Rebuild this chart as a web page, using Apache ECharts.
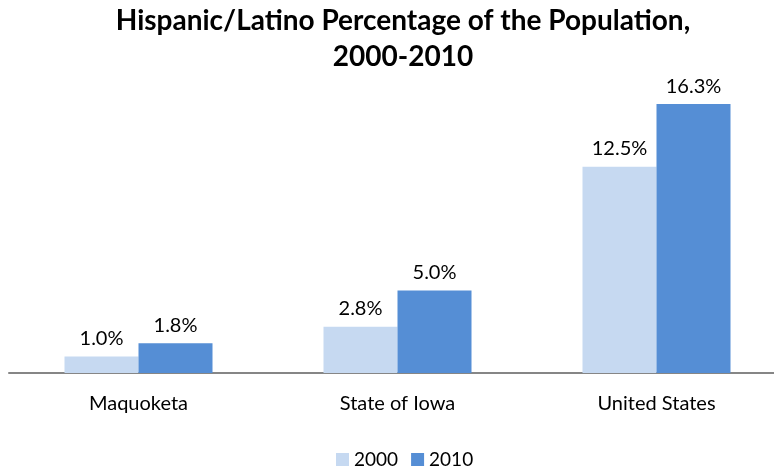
<!DOCTYPE html>
<html>
<head>
<meta charset="utf-8">
<script src="https://cdn.jsdelivr.net/npm/echarts@6/dist/echarts.min.js"></script>
<style>
  html, body { margin: 0; padding: 0; background: #fff; overflow: hidden; }
  #chart { width: 786px; height: 468px; }
</style>
</head>
<body>
<div id="chart"></div>
<script>
const categories = ['Maquoketa', 'State of Iowa', 'United States'];
const years = ['2000', '2010'];
const values2000 = [1.0, 2.8, 12.5];
const values2010 = [1.8, 5.0, 16.3];

const colors = ['#C6D9F1', '#558ED5'];
const font = 'Lato, "Open Sans", sans-serif';

// the plot runs past the right edge of the 774px window, as in the original
const chart = echarts.init(document.getElementById('chart'));

function makeSeries(name, data, color) {
    return {
        name,
        type: 'bar',
        data,
        barWidth: 74,
        barGap: '0%',
        itemStyle: { color },
        label: {
            show: true,
            position: 'top',
            distance: 8,
            formatter: p => p.value.toFixed(1) + '%',
            fontFamily: font,
            fontSize: 20,
            color: '#000'
        }
    };
}

chart.setOption({
    animation: false,
    title: {
        text: 'Hispanic/Latino Percentage of the Population,\n2000-2010',
        left: 398,
        textAlign: 'center',
        top: -2,
        textStyle: { fontFamily: font, fontWeight: 'bold', fontSize: 28, lineHeight: 36, color: '#000' }
    },
    legend: {
        data: years,
        top: 445,
        left: 331,
        itemWidth: 13,
        itemHeight: 13,
        itemGap: 13,
        icon: 'rect',
        textStyle: { fontFamily: font, fontSize: 19, color: '#000' }
    },
    grid: { left: 9, right: 0, top: 76, bottom: 95 },
    xAxis: {
        type: 'category',
        data: categories,
        axisLine: { lineStyle: { color: '#868686', width: 2 } },
        axisTick: { show: false },
        axisLabel: { fontFamily: font, fontSize: 20, color: '#000', margin: 21 }
    },
    yAxis: {
        type: 'value',
        min: 0,
        max: 18,
        show: false,
        splitLine: { show: false }
    },
    series: [
        makeSeries(years[0], values2000, colors[0]),
        makeSeries(years[1], values2010, colors[1])
    ]
});
</script>
</body>
</html>
